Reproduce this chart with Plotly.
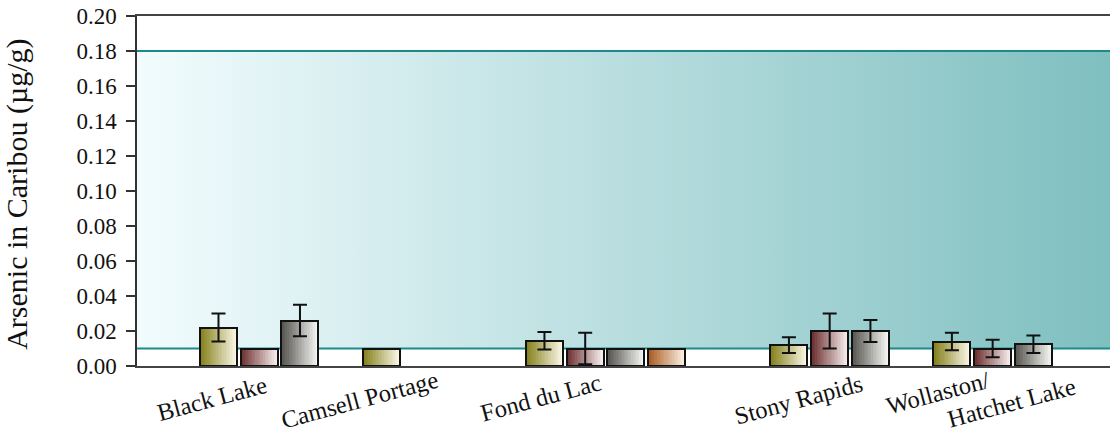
import base64
import plotly.graph_objects as go

# Sampling communities (x categories)
sites = ["Black Lake", "Camsell Portage", "Fond du Lac", "Stony Rapids", "Wollaston/ Hatchet Lake"]

# Mean arsenic concentration (µg/g) and error per series; None = not sampled / no error bar
series_1 = [0.022, 0.010, 0.0145, 0.012, 0.014]
series_1_err = [0.008, None, 0.005, 0.0045, 0.005]
series_2 = [0.010, None, 0.010, 0.020, 0.010]
series_2_err = [None, None, 0.009, 0.010, 0.005]
series_3 = [0.026, None, 0.010, 0.020, 0.0124]
series_3_err = [0.009, None, None, 0.0063, 0.005]
series_4 = [None, None, 0.010, None, None]
series_4_err = [None, None, None, None, None]

# Reference band (µg/g)
band_low = 0.01
band_high = 0.18

y_tick_vals = [0.00, 0.02, 0.04, 0.06, 0.08, 0.10, 0.12, 0.14, 0.16, 0.18, 0.20]

# ---- styling / layout ----
FONT = "Liberation Serif, Times New Roman, serif"
series_list = [
    (series_1, series_1_err, (130, 126, 24), (249, 246, 228)),
    (series_2, series_2_err, (106, 44, 44), (246, 236, 236)),
    (series_3, series_3_err, (84, 82, 76), (244, 244, 242)),
    (series_4, series_4_err, (168, 90, 32), (251, 238, 224)),
]
group_start = [0, 4, 8, 14, 18]   # first bar slot of each site
bar_w = 0.908                      # bar width in slot units
n_slices = 24                      # horizontal gradient resolution

slot_x, slot_y, slot_err, slot_series = [], [], [], []
for gi, start in enumerate(group_start):
    k = 0
    for si, (vals, errs, _, _) in enumerate(series_list):
        if vals[gi] is None:
            continue
        slot_x.append(start + k)
        slot_y.append(vals[gi])
        slot_err.append(errs[gi])
        slot_series.append(si)
        k += 1

# gradient fill: each bar made of thin vertical slices, dark (left) to light (right)
fx, fy, fc = [], [], []
for x, y, si in zip(slot_x, slot_y, slot_series):
    dark, light = series_list[si][2], series_list[si][3]
    for j in range(n_slices):
        t = j / (n_slices - 1)
        c = tuple(round(d + (l - d) * t) for d, l in zip(dark, light))
        fx.append(x - bar_w / 2 + (j + 0.5) * bar_w / n_slices)
        fy.append(y)
        fc.append("rgb(%d,%d,%d)" % c)

fig = go.Figure()
fig.add_trace(go.Bar(
    x=fx, y=fy, width=bar_w / n_slices * 1.25,
    marker=dict(color=fc, line=dict(width=0)),
    hoverinfo="skip", showlegend=False,
))
fig.add_trace(go.Bar(
    x=slot_x, y=slot_y, width=bar_w,
    marker=dict(color="rgba(0,0,0,0)", line=dict(color="#111111", width=2)),
    showlegend=False,
))
ex = [x for x, e in zip(slot_x, slot_err) if e is not None]
ey = [y for y, e in zip(slot_y, slot_err) if e is not None]
ee = [e for e in slot_err if e is not None]
fig.add_trace(go.Scatter(
    x=ex, y=ey, mode="markers", marker=dict(size=1, opacity=0),
    error_y=dict(type="data", array=ee, symmetric=True, color="#111111", thickness=2, width=7),
    showlegend=False, hoverinfo="skip",
))

# horizontal gradient for the reference band
svg = ('<svg xmlns="http://www.w3.org/2000/svg" width="200" height="20" viewBox="0 0 200 20" '
       'preserveAspectRatio="none"><defs><linearGradient id="g" x1="0" y1="0" x2="1" y2="0">'
       '<stop offset="0" stop-color="#f2fcfe"/><stop offset="1" stop-color="#7fbfc0"/>'
       '</linearGradient></defs><rect width="200" height="20" fill="url(#g)"/></svg>')
fig.add_layout_image(dict(
    source="data:image/svg+xml;base64," + base64.b64encode(svg.encode()).decode(),
    xref="paper", yref="y", x=0, y=band_high, sizex=1, sizey=band_high - band_low,
    xanchor="left", yanchor="top", sizing="stretch", layer="below",
))
for yv in (band_low, band_high):
    fig.add_shape(type="line", xref="paper", yref="y", x0=0, x1=1, y0=yv, y1=yv,
                  line=dict(color="#1c8a8a", width=2), layer="below")

# rotated site labels (x in bar-slot units, y in paper units below the axis)
label_pos = [
    ("Black Lake", -0.16, -0.094),
    ("Camsell Portage", 3.47, -0.096),
    ("Fond du Lac", 7.91, -0.091),
    ("Stony Rapids", 14.24, -0.097),
    ("Wollaston/", 17.67, -0.077),
    ("Hatchet Lake", 19.46, -0.105),
]
for text, xp, yp in label_pos:
    fig.add_annotation(text=text, x=xp, y=yp, xref="x", yref="paper",
                       showarrow=False, textangle=-15, xanchor="center", yanchor="middle",
                       font=dict(family=FONT, size=24.5, color="#111111"))

fig.add_annotation(text="Arsenic in Caribou (µg/g)", xref="paper", yref="paper",
                   x=-0.124, y=0.49, textangle=-90, showarrow=False,
                   xanchor="center", yanchor="middle",
                   font=dict(family=FONT, size=30, color="#111111"))

fig.update_layout(
    width=1110, height=434,
    margin=dict(l=137, r=0, t=16, b=68),
    paper_bgcolor="white", plot_bgcolor="white",
    barmode="overlay", bargap=0,
    xaxis=dict(range=[-2.0, 21.88], showgrid=False, zeroline=False,
               showticklabels=False, ticks="", showline=True, mirror=True,
               linecolor="#444444", linewidth=1.5),
    yaxis=dict(range=[0, 0.2], tickvals=y_tick_vals, tickformat=".2f",
               showgrid=False, zeroline=False, ticks="outside", ticklen=9,
               tickwidth=1.5, tickcolor="#333333", showline=True,
               linecolor="#333333", linewidth=1.5, ticklabelstandoff=5,
               tickfont=dict(family=FONT, size=23, color="#111111")),
)

fig.write_html("out.html")
